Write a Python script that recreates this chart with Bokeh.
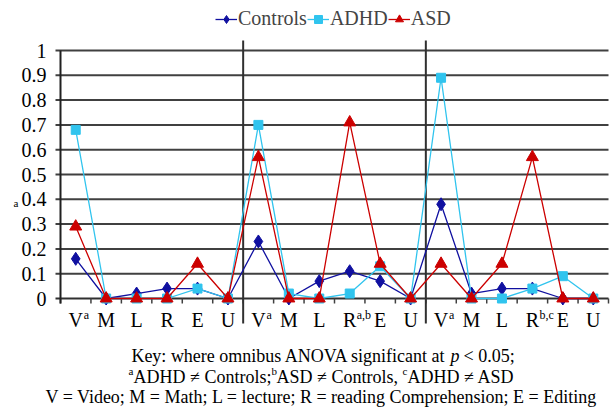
from bokeh.plotting import figure
from bokeh.models import ColumnDataSource, Legend, LegendItem
from bokeh.core.properties import value
from bokeh.embed import file_html
from bokeh.resources import INLINE

# ---------------- data ----------------
tasks = ["V", "M", "L", "R", "E", "U"] * 3
task_sups = ["a", "", "", "", "", "",
             "a", "", "", "a,b", "", "",
             "a", "", "", "b,c", "", ""]
controls = [0.16, 0.00, 0.02, 0.04, 0.04, 0.00,
            0.23, 0.00, 0.07, 0.11, 0.07, 0.00,
            0.38, 0.02, 0.04, 0.04, 0.00, 0.00]
adhd = [0.68, 0.00, 0.00, 0.00, 0.04, 0.00,
        0.70, 0.02, 0.00, 0.02, 0.13, 0.00,
        0.89, 0.00, 0.00, 0.04, 0.09, 0.00]
asd = [0.29, 0.00, 0.00, 0.00, 0.14, 0.00,
       0.57, 0.00, 0.00, 0.71, 0.14, 0.00,
       0.14, 0.00, 0.14, 0.57, 0.00, 0.00]
y_ticks = [0, 0.1, 0.2, 0.3, 0.4, 0.5, 0.6, 0.7, 0.8, 0.9, 1]
y_labels = ["0", "0.1", "0.2", "0.3", "0.4", "0.5", "0.6", "0.7", "0.8", "0.9", "1"]
group_bounds = [6, 12]
series_names = ["Controls", "ADHD", "ASD"]
key_line1 = ["Key: where omnibus ANOVA significant at", "p", "< 0.05;"]
key_line2 = [("a", True), ("ADHD \u2260 Controls;", False), ("b", True),
             ("ASD \u2260 Controls, ", False), ("c", True), ("ADHD \u2260 ASD", False)]
key_line3 = "V = Video; M = Math; L = lecture; R = reading Comprehension; E = Editing"

# ---------------- helpers ----------------
FONT = "Liberation Serif"
W = {' ': 250, 'A': 722, 'C': 667, 'D': 722, 'E': 611, 'H': 722, 'K': 722, 'L': 611,
     'M': 889, 'N': 722, 'O': 722, 'R': 667, 'S': 556, 'V': 722, 'U': 722,
     'a': 444, 'b': 500, 'c': 444, 'd': 500, 'e': 444, 'f': 333, 'g': 500, 'h': 500,
     'i': 278, 'l': 278, 'm': 778, 'n': 500, 'o': 500, 'p': 500, 'r': 333, 's': 389,
     't': 278, 'u': 500, 'w': 722, 'y': 500, ':': 278, ';': 278, ',': 250, '.': 250,
     '<': 564, '=': 564, '0': 500, '5': 500, '\u2260': 549}


def tw(s, size):
    return sum(W.get(ch, 500) for ch in s) / 1000.0 * size


WIDTH, HEIGHT = 615, 408
X0, X1 = 60.0, 608.0
PXX = (X1 - X0) / 18.0
PX = 248.0
Y0 = 298.0


def yv(pix):
    return (Y0 - pix) / PX


def xv(pix):
    return (pix - X0) / PXX


p = figure(width=WIDTH, height=HEIGHT,
           x_range=(xv(0), xv(WIDTH)), y_range=(yv(HEIGHT), yv(0)),
           output_backend="svg", toolbar_location=None,
           x_axis_location=None, y_axis_location=None,
           min_border_left=0, min_border_right=0, min_border_top=0, min_border_bottom=0)
p.outline_line_color = None
p.grid.visible = False

grid_y = [t for t in y_ticks if t > 0]
p.segment(x0=[xv(55)] * len(grid_y), x1=[18] * len(grid_y), y0=grid_y, y1=grid_y,
          line_color="#404040", line_width=2)
p.segment(x0=[xv(55)], x1=[18], y0=[0], y1=[0], line_color="#303030", line_width=2)
bx = list(range(19))
p.segment(x0=bx, x1=bx, y0=[0] * 19, y1=[yv(Y0 + 5)] * 19, line_color="#404040", line_width=1.5)
p.segment(x0=[0], x1=[0], y0=[yv(Y0 + 5)], y1=[1], line_color="#202020", line_width=2)
p.segment(x0=group_bounds, x1=group_bounds, y0=[yv(40)] * 2, y1=[yv(323)] * 2,
          line_color="#303030", line_width=2)

p.text(x=[xv(46)] * len(y_ticks), y=y_ticks, text=y_labels, text_font=value(FONT),
       text_font_size="20px", text_align="right", text_baseline="middle")
p.text(x=[xv(13)], y=[yv(202)], text=["a"], text_font=value(FONT),
       text_font_size="11px", text_baseline="middle")

xs = [i + 0.5 for i in range(len(tasks))]
src = ColumnDataSource(dict(x=xs, controls=controls, adhd=adhd, asd=asd))

styles = [
    ("controls", "#1010a0", "diamond", 13),
    ("adhd", "#30c4ee", "square", 9),
    ("asd", "#cc0000", "triangle", 12),
]
items = []
for name, (col, color, marker, size) in zip(series_names, styles):
    lr = p.line("x", col, source=src, line_color=color, line_width=1.3)
    sr = p.scatter("x", col, source=src, marker=marker, size=size,
                   fill_color=color, line_color=color)
    items.append(LegendItem(label=name, renderers=[lr, sr]))

legend = Legend(items=items, orientation="horizontal", location=(215, HEIGHT - 30),
                label_text_font=FONT, label_text_font_size="20px",
                glyph_width=22, glyph_height=20, label_standoff=1, spacing=0,
                padding=0, margin=0, border_line_color=None,
                background_fill_alpha=0)
p.add_layout(legend)

lab_y = yv(319)
p.text(x=xs, y=[lab_y] * len(xs), text=tasks, text_font=value(FONT),
       text_font_size="20px", text_align="center", text_baseline="middle")
sx, sy, st, so = [], [], [], []
for x, t, s in zip(xs, tasks, task_sups):
    if s:
        sx.append(x)
        sy.append(lab_y)
        st.append(s)
        so.append(round(tw(t, 20) / 2 + 0.5))
p.text(x=sx, y=sy, text=st, x_offset=so, y_offset=-5, text_font=value(FONT),
       text_font_size="12px", text_baseline="middle")

cx = xv(321)
KS = 18
SS = 11
# line 1: "...at" right-aligned, italic p, "< 0.05;"
wa = tw(key_line1[0] + " ", KS)
wp = tw(key_line1[1], KS)
wc = tw(" " + key_line1[2], KS)
start = -(wa + wp + wc) / 2
anchor = round(start + wa)
p.text(x=[cx], y=[yv(355)], text=[key_line1[0]], x_offset=anchor - 4, text_font=value(FONT),
       text_font_size=f"{KS}px", text_align="right", text_baseline="middle")
p.text(x=[cx], y=[yv(355)], text=[key_line1[1]], x_offset=anchor, text_font=value(FONT),
       text_font_size=f"{KS}px", text_font_style="italic", text_baseline="middle")
p.text(x=[cx], y=[yv(355)], text=[key_line1[2]], x_offset=round(anchor + wp + 4),
       text_font=value(FONT), text_font_size=f"{KS}px", text_baseline="middle")
# line 2 with superscript letters
widths = [tw(s, SS if sup else KS) for s, sup in key_line2]
total = sum(widths)
off = -total / 2
for (seg, sup), w in zip(key_line2, widths):
    p.text(x=[cx], y=[yv(376)], text=[seg], x_offset=round(off), y_offset=(-6 if sup else 0),
           text_font=value(FONT), text_font_size=f"{SS if sup else KS}px",
           text_baseline="middle")
    off += w
# line 3
p.text(x=[cx], y=[yv(396)], text=[key_line3], text_font=value(FONT),
       text_font_size=f"{KS}px", text_align="center", text_baseline="middle")

open("out.html", "w").write(file_html(p, INLINE))
